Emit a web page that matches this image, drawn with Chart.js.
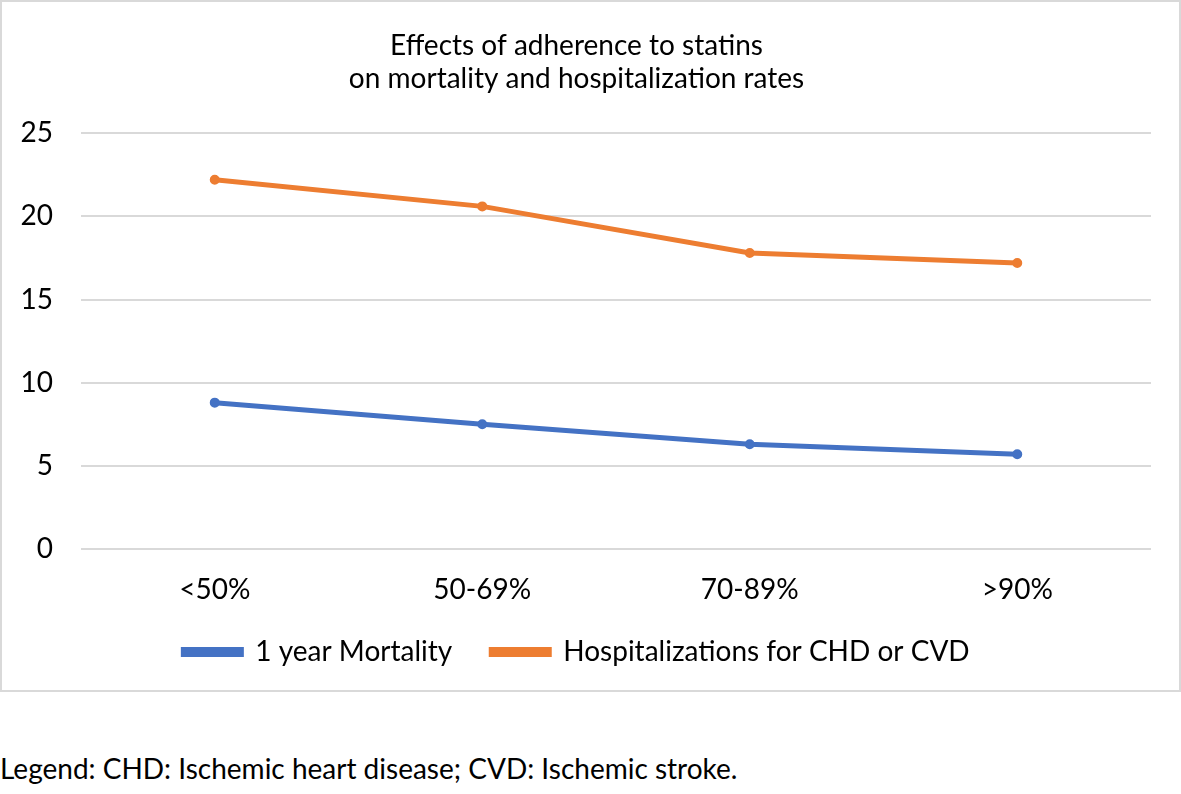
<!DOCTYPE html>
<html>
<head>
<meta charset="utf-8">
<script src="https://cdn.jsdelivr.net/npm/chart.js"></script>
<style>
  body { margin: 0; background: #fff; font-family: Lato, sans-serif; }
  #box { position: absolute; left: 0; top: 0; width: 1177px; height: 688px; border: 2px solid #d9d9d9; }
  #caption { position: absolute; left: 0; top: 751px; font-size: 28px; color: #000; font-family: Lato, sans-serif; }
</style>
</head>
<body>
<div id="box"><canvas id="chart" width="1177" height="688"></canvas></div>
<div id="caption">Legend: CHD: Ischemic heart disease; CVD: Ischemic stroke.</div>
<script>
// Adherence groups and rates
const adherence = ['<50%', '50-69%', '70-89%', '>90%'];
const mortality = [8.8, 7.5, 6.3, 5.7];
const hospitalizations = [22.2, 20.6, 17.8, 17.2];
const yTicks = [0, 5, 10, 15, 20, 25];

const ctx = document.getElementById('chart').getContext('2d');

new Chart(ctx, {
  type: 'line',
  data: {
    labels: adherence,
    datasets: [
      {
        label: '1 year Mortality',
        data: mortality,
        borderColor: '#4472C4',
        backgroundColor: '#4472C4',
        borderWidth: 5,
        pointRadius: 2.5,
        fill: false,
        tension: 0
      },
      {
        label: 'Hospitalizations for CHD or CVD',
        data: hospitalizations,
        borderColor: '#ED7D31',
        backgroundColor: '#ED7D31',
        borderWidth: 5,
        pointRadius: 2.5,
        fill: false,
        tension: 0
      }
    ]
  },
  options: {
    responsive: false,
    animation: false,
    layout: {
      padding: { left: 0, right: 28, top: 0, bottom: 14 }
    },
    scales: {
      x: {
        offset: true,
        // keep the legend close to the category labels
        afterFit: axis => { axis.height = 50; },
        grid: { display: false },
        border: { display: false },
        ticks: { color: '#000', font: { family: 'Lato', size: 28 }, padding: 16 }
      },
      y: {
        min: 0,
        max: 25,
        afterBuildTicks: axis => { axis.ticks = yTicks.map(v => ({ value: v })); },
        afterFit: axis => { axis.width = 79; },
        grid: { color: '#d9d9d9', lineWidth: 2, drawTicks: false },
        border: { display: false },
        ticks: { color: '#000', font: { family: 'Lato', size: 28 }, padding: 28 }
      }
    },
    plugins: {
      title: {
        display: true,
        text: ['Effects of adherence to statins', 'on mortality and hospitalization rates'],
        color: '#000',
        font: { family: 'Lato', size: 28, weight: 'normal' },
        padding: { top: 27, bottom: 37 },
        lineHeight: 1.45
      },
      legend: {
        position: 'bottom',
        labels: {
          color: '#000',
          font: { family: 'Lato', size: 28 },
          boxWidth: 58,
          boxHeight: 5,
          padding: 39
        }
      },
      tooltip: { enabled: false }
    }
  }
});
</script>
</body>
</html>
